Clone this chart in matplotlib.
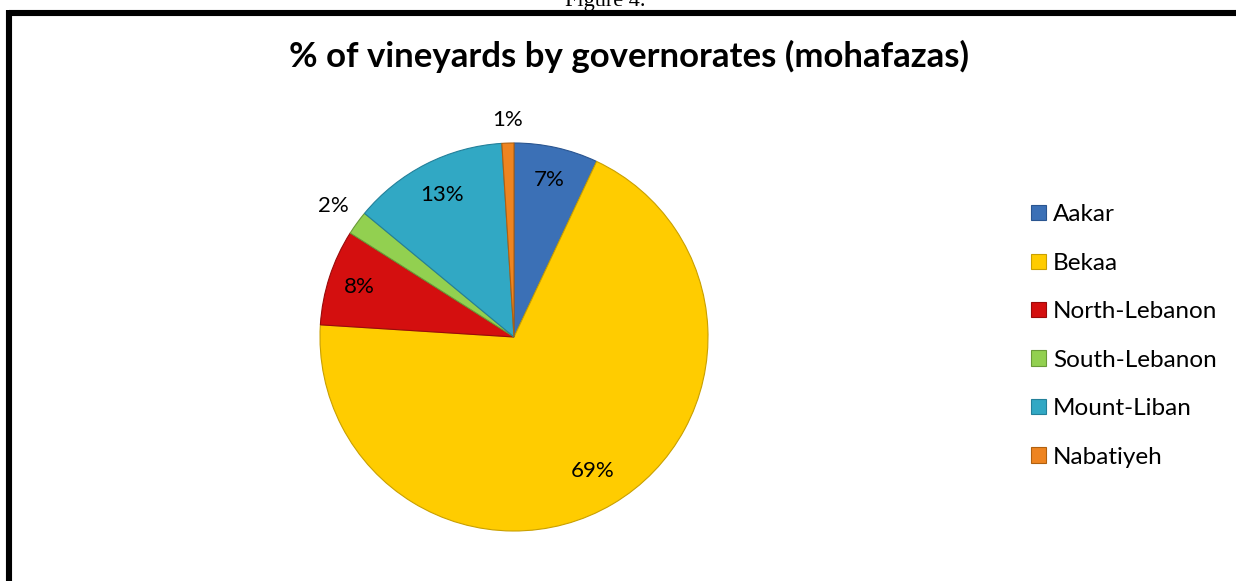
import matplotlib
matplotlib.use('Agg')
import matplotlib.pyplot as plt
from matplotlib.lines import Line2D
from matplotlib.patches import Patch
import numpy as np

plt.rcParams['font.family'] = ['Lato', 'DejaVu Sans']

# data
governorates = ['Aakar', 'Bekaa', 'North-Lebanon', 'South-Lebanon', 'Mount-Liban', 'Nabatiyeh']
shares = [7, 69, 8, 2, 13, 1]
colors = ['#3b70b6', '#ffcc00', '#d40f0f', '#92d050', '#31a8c4', '#ee8420']
edge_colors = ['#2a5590', '#c9a000', '#9a0a0a', '#6a9a38', '#23809a', '#b0600f']

W, H = 1236, 581
fig = plt.figure(figsize=(W / 100, H / 100), dpi=100)

# frame (only top and left are visible in the crop)
fig.add_artist(Line2D([9 / W, 1], [1 - 13 / H, 1 - 13 / H], color='black', lw=4.4,
                      solid_capstyle='butt', transform=fig.transFigure))
fig.add_artist(Line2D([9 / W, 9 / W], [0, 1 - 10 / H], color='black', lw=4.4,
                      solid_capstyle='butt', transform=fig.transFigure))

# caption, cut off at the top like in the scan
fig.text(605 / W, 1 - 6 / H, 'Figure 4.', ha='center', va='baseline',
         family='Liberation Serif', fontsize=16)

fig.text(629 / W, 1 - 56 / H, '% of vineyards by governorates (mohafazas)',
         ha='center', va='center', fontsize=25, fontweight='bold')

# pie
cx, cy, r = 514, 337, 200
ax = fig.add_axes([(cx - r) / W, (H - cy - r) / H, 2 * r / W, 2 * r / H])
wedges, _ = ax.pie(shares, colors=colors, startangle=90, counterclock=False,
                   radius=0.97, wedgeprops=dict(linewidth=0.8))
for w, ec in zip(wedges, edge_colors):
    w.set_edgecolor(ec)
ax.set_xlim(-1, 1)
ax.set_ylim(-1, 1)
ax.set_aspect('equal')
ax.axis('off')

label_dist = [0.83, 0.80, 0.84, 1.15, 0.82, 1.12]
for w, v, d in zip(wedges, shares, label_dist):
    ang = np.deg2rad((w.theta1 + w.theta2) / 2)
    ax.text(d * 0.97 * np.cos(ang), d * 0.97 * np.sin(ang), f'{v}%',
            ha='center', va='center', fontsize=16)

handles = [Patch(facecolor=c, edgecolor=e, linewidth=0.8) for c, e in zip(colors, edge_colors)]
fig.legend(handles, governorates, loc='center left', bbox_to_anchor=(1019 / W, 1 - 336 / H),
           frameon=False, fontsize=17.5, handlelength=0.6, handleheight=0.6,
           handletextpad=0.3, labelspacing=1.13, borderpad=0)

fig.savefig('out.png', dpi=100)
